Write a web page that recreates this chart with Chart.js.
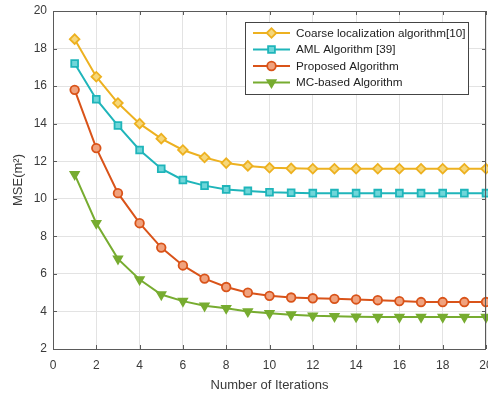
<!DOCTYPE html>
<html>
<head>
<meta charset="utf-8">
<script src="https://cdn.jsdelivr.net/npm/chart.js@4.4.1/dist/chart.umd.min.js"></script>
<style>
  html, body { margin: 0; padding: 0; background: #fff; overflow: hidden; }
  canvas { display: block; }
</style>
</head>
<body>
<canvas id="mseChart" width="488" height="397"></canvas>
<script>
// Data
const iterations = [1, 2, 3, 4, 5, 6, 7, 8, 9, 10, 11, 12, 13, 14, 15, 16, 17, 18, 19, 20];
const coarseMse = [18.5, 16.5, 15.1, 14.0, 13.2, 12.6, 12.2, 11.9, 11.75, 11.65, 11.62, 11.6, 11.6, 11.6, 11.6, 11.6, 11.6, 11.6, 11.6, 11.6];
const amlMse = [17.2, 15.3, 13.9, 12.6, 11.6, 11.0, 10.7, 10.5, 10.42, 10.35, 10.32, 10.3, 10.3, 10.3, 10.3, 10.3, 10.3, 10.3, 10.3, 10.3];
const proposedMse = [15.8, 12.7, 10.3, 8.7, 7.4, 6.45, 5.75, 5.3, 5.0, 4.83, 4.74, 4.7, 4.67, 4.64, 4.6, 4.55, 4.5, 4.5, 4.5, 4.5];
const mcMse = [11.3, 8.7, 6.8, 5.7, 4.9, 4.55, 4.3, 4.17, 4.0, 3.9, 3.83, 3.77, 3.74, 3.72, 3.7, 3.7, 3.7, 3.7, 3.7, 3.7];
const seriesNames = ['Coarse localization algorithm[10]', 'AML Algorithm [39]', 'Proposed Algorithm', 'MC-based Algorithm'];
const xTicks = [0, 2, 4, 6, 8, 10, 12, 14, 16, 18, 20];
const yTicks = [2, 4, 6, 8, 10, 12, 14, 16, 18, 20];

const FONT = "'Liberation Sans', Arial, sans-serif";
const TEXT = '#3a3a3a';

function toPoints(vals) {
    return vals.map((v, i) => ({ x: iterations[i], y: v }));
}

function series(label, vals, color, fill, style, rotation) {
    return {
        label: label,
        data: toPoints(vals),
        borderColor: color,
        backgroundColor: fill,
        borderWidth: 2,
        pointStyle: style,
        pointRotation: rotation || 0,
        pointRadius: style === 'circle' ? 4.3 : 4.8,
        pointBorderWidth: 1.8,
        pointBorderColor: color,
        pointBackgroundColor: fill,
        tension: 0,
        fill: false,
        clip: false
    };
}

// no extra room for the last tick label: the figure lets "20" run off the edge
const noPad = () => ({ left: 0, top: 0, right: 0, bottom: 0 });

// Box + inward ticks like the original figure
const frame = {
    id: 'frame',
    afterDatasetsDraw(chart) {
        const { ctx, chartArea: a, scales } = chart;
        ctx.save();
        ctx.strokeStyle = '#5a5a5a';
        ctx.lineWidth = 1;
        ctx.beginPath();
        xTicks.forEach(t => {
            const px = Math.round(scales.x.getPixelForValue(t)) + 0.5;
            ctx.moveTo(px, a.bottom); ctx.lineTo(px, a.bottom - 4);
            ctx.moveTo(px, a.top); ctx.lineTo(px, a.top + 4);
        });
        yTicks.forEach(t => {
            const py = Math.round(scales.y.getPixelForValue(t)) + 0.5;
            ctx.moveTo(a.left, py); ctx.lineTo(a.left + 4, py);
            ctx.moveTo(a.right, py); ctx.lineTo(a.right - 4, py);
        });
        ctx.stroke();
        ctx.strokeRect(Math.round(a.left) + 0.5, Math.round(a.top) + 0.5,
            Math.round(a.right - a.left) - 1, Math.round(a.bottom - a.top));
        ctx.restore();
    },
    afterDraw(chart) {
        // legend box, top-right inside the axes
        const { ctx, chartArea: a } = chart;
        const bw = 223, bh = 72;
        const bx = a.right - 18 - bw, by = a.top + 11;
        ctx.save();
        ctx.fillStyle = '#fff';
        ctx.fillRect(bx, by, bw, bh);
        ctx.strokeStyle = '#444';
        ctx.lineWidth = 1;
        ctx.strokeRect(bx + 0.5, by + 0.5, bw, bh);
        ctx.font = '11.7px ' + FONT;
        ctx.textBaseline = 'middle';
        chart.data.datasets.forEach((ds, i) => {
            const y = by + 11 + i * 16.5;
            ctx.strokeStyle = ds.borderColor;
            ctx.lineWidth = 2;
            ctx.beginPath();
            ctx.moveTo(bx + 8, y); ctx.lineTo(bx + 45, y);
            ctx.stroke();
            ctx.fillStyle = ds.pointBackgroundColor;
            ctx.lineWidth = ds.pointBorderWidth;
            Chart.helpers.drawPoint(ctx, {
                pointStyle: ds.pointStyle,
                rotation: ds.pointRotation,
                radius: ds.pointRadius,
                borderWidth: ds.pointBorderWidth
            }, bx + 26.5, y);
            ctx.fillStyle = '#222';
            ctx.fillText(ds.label, bx + 51, y + 0.5);
        });
        ctx.restore();
    }
};

new Chart(document.getElementById('mseChart'), {
    type: 'line',
    data: {
        datasets: [
            series(seriesNames[0], coarseMse, '#edb120', '#f6d77a', 'rectRot'),
            series(seriesNames[1], amlMse, '#1fb5ba', '#6fd6d9', 'rect'),
            series(seriesNames[2], proposedMse, '#d95319', '#f0a27e', 'circle'),
            series(seriesNames[3], mcMse, '#77ac30', '#77ac30', 'triangle', 180)
        ]
    },
    options: {
        responsive: false,
        animation: false,
        layout: { autoPadding: false, padding: { top: 11, right: 2, left: 0, bottom: 0 } },
        plugins: {
            legend: { display: false },
            tooltip: { enabled: false }
        },
        scales: {
            x: {
                type: 'linear',
                min: 0, max: 20,
                afterBuildTicks(scale) { scale.ticks = xTicks.map(v => ({ value: v })); },
                afterFit(scale) {
                    scale.height = 48;
                    scale.paddingLeft = 0;
                    scale.paddingRight = 0;
                    scale.getPadding = noPad;
                },
                grid: { color: '#e3e3e3', drawTicks: false },
                border: { display: false },
                ticks: { color: TEXT, font: { family: FONT, size: 12 }, padding: 9, maxRotation: 0 },
                title: { display: true, text: 'Number of Iterations', color: TEXT, font: { family: FONT, size: 13 }, padding: { top: 3 } }
            },
            y: {
                min: 2, max: 20,
                afterBuildTicks(scale) { scale.ticks = yTicks.map(v => ({ value: v })); },
                afterFit(scale) { scale.width = 53; scale.getPadding = noPad; },
                grid: { color: '#e3e3e3', drawTicks: false },
                border: { display: false },
                ticks: { color: TEXT, font: { family: FONT, size: 12 }, padding: 6 },
                title: { display: true, text: 'MSE(m²)', color: TEXT, font: { family: FONT, size: 13 }, padding: { top: 11, bottom: 2 } }
            }
        }
    },
    plugins: [frame]
});
</script>
</body>
</html>
